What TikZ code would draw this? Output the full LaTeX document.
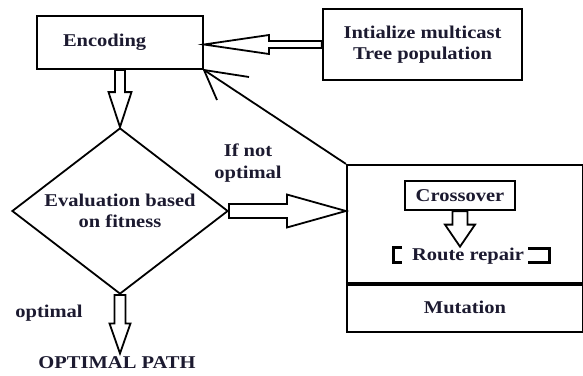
\documentclass[tikz,border=0pt]{standalone}
\usepackage{fontspec}
\setmainfont{Liberation Serif}[FakeStretch=1.14]
\usetikzlibrary{shapes.geometric,calc}
\definecolor{ink}{RGB}{28,26,48}
\tikzset{
  txt/.style={font=\fontsize{18}{21.5}\selectfont\bfseries, text=ink},
  box/.style={draw=black, txt},
  hollow/.style={draw=black, fill=white, line width=1.8pt, line join=miter},
  bracketline/.style={line width=3pt, line cap=butt, line join=miter}
}
% horizontal hollow arrow: #1 tail, #2 tip, #3 shaft half, #4 head half, #5 signed head length
\newcommand\hollowH[5]{\draw[hollow] let \p1=(#1),\p2=(#2) in
  (\x1,{\y2+#3}) -- ({\x2-(#5)},{\y2+#3}) -- ({\x2-(#5)},{\y2+#4}) -- (\p2) --
  ({\x2-(#5)},{\y2-#4}) -- ({\x2-(#5)},{\y2-#3}) -- (\x1,{\y2-#3}) -- cycle;}
% downward hollow arrow
\newcommand\hollowV[5]{\draw[hollow] let \p1=(#1),\p2=(#2) in
  ({\x2-#3},\y1) -- ({\x2-#3},{\y2+(#5)}) -- ({\x2-#4},{\y2+(#5)}) -- (\p2) --
  ({\x2+#4},{\y2+(#5)}) -- ({\x2+#3},{\y2+(#5)}) -- ({\x2+#3},\y1) -- cycle;}
\begin{document}
\begin{tikzpicture}[x=1pt,y=-1pt]
\useasboundingbox[fill=white] (0,0) rectangle (583,375);

\node[box, line width=2pt, anchor=north west, minimum height=53pt,
      text width=114pt, inner xsep=26pt, align=left] (enc) at (36,15) {Encoding};
\node[box, line width=2.5pt, minimum width=199pt, minimum height=71pt,
      align=center] (init) at (422.5,44.5) {Intialize multicast\\Tree population};
\node[diamond, draw=black, line width=1.8pt, aspect=1.31, minimum width=216pt,
      minimum height=166pt, inner sep=0pt, align=center, txt] (dia) at (120,211)
      {Evaluation based\\on fitness};

\node[draw=black, line width=2.2pt, minimum width=236pt, minimum height=118pt] (big) at (465,224) {};
\node[box, line width=2.2pt, minimum width=236pt, minimum height=49pt] (mut) at (465,307.5) {Mutation};
\draw[line width=4.5pt] (big.south west) -- (big.south east);
\node[box, line width=2.5pt, minimum width=110pt, minimum height=29pt] (cross) at (460,195.5) {Crossover};
\node[txt, inner sep=1pt] (route) at (468,256) {Route repair};
\draw[bracketline] (402,247) -- (393,247) -- (393,262) -- (402,262);
\draw[bracketline] (528,248) -- (549,248) -- (549,262) -- (528,262);

\node[txt, align=center] (ifnot) at (248,163) {If not\\optimal};
\node[txt] (opt) at (49,313) {optimal};
\node[txt] (path) at (117,363) {OPTIMAL PATH};

\hollowH{init.west}{enc.east |- init.west}{3.5pt}{9.5pt}{-65pt}
\hollowV{enc.south}{dia.north}{5pt}{11.5pt}{35pt}
\hollowH{dia.east}{big.west |- dia.east}{7pt}{16.5pt}{59pt}
\hollowV{cross.south}{cross.south |- route.north}{7.5pt}{15pt}{22pt}
\hollowV{dia.south}{dia.south |- path.north}{5.5pt}{10.5pt}{30pt}

\draw[line width=1.8pt] (big.north west) -- (enc.south east);
\draw[line width=1.8pt] ($(enc.south east)+(45,7)$) -- (enc.south east) -- ($(enc.south east)+(13,30)$);
\end{tikzpicture}
\end{document}
